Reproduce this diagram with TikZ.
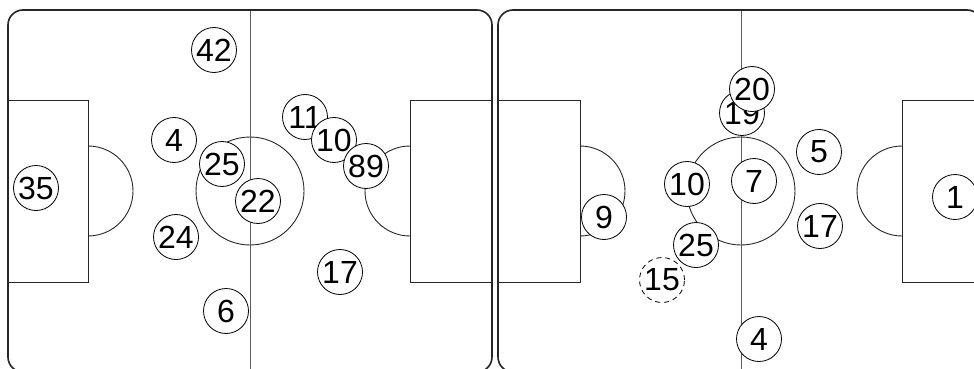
\documentclass[tikz,border=0pt]{standalone}
\usepackage{fontspec}
\setmainfont{Liberation Sans}
\begin{document}
\begin{tikzpicture}[x=1pt,y=-1pt,
  player/.style={circle, draw=black, fill=white, line width=0.8pt, minimum size=45pt, inner sep=0pt, font=\fontsize{32}{32}\selectfont},
  subplayer/.style={player, dashed, dash pattern=on 5pt off 4pt},
  outerline/.style={draw=black!85, line width=1.6pt, rounded corners=15pt},
  pitchline/.style={draw=black!85, line width=0.9pt},
  midline/.style={draw=black!65, line width=1pt}]
\useasboundingbox (0,0) rectangle (974,369);
\clip (0,0) rectangle (974,369);
% left pitch
\draw[pitchline] (8,100) rectangle (88,282);
\draw[pitchline] (410,100) rectangle (492,282);
\draw[pitchline] (88,146) arc[start angle=-90,end angle=90,radius=45];
\draw[pitchline] (410,146) arc[start angle=270,end angle=90,radius=45];
\draw[pitchline] (250,191) circle[radius=54];
\draw[midline] (250,10) -- (250,372);
\draw[outerline] (8,10) rectangle (492,372);
% right pitch
\draw[pitchline] (498,100) rectangle (580,282);
\draw[pitchline] (902,100) rectangle (982,282);
\draw[pitchline] (580,146) arc[start angle=-90,end angle=90,radius=45];
\draw[pitchline] (902,146) arc[start angle=270,end angle=90,radius=45];
\draw[pitchline] (741,191) circle[radius=54];
\draw[midline] (741,10) -- (741,372);
\draw[outerline] (498,10) rectangle (982,372);
% left players
\node[player] (l42) at (214,50) {42};
\node[player] (l4) at (174,140) {4};
\node[player] (l25) at (222,164) {25};
\node[player] (l22) at (258,201) {22};
\node[player] (l24) at (176,237) {24};
\node[player] (l35) at (36,188) {35};
\node[player] (l6) at (226,311) {6};
\node[player] (l11) at (305,117) {11};
\node[player] (l10) at (334,140) {10};
\node[player] (l89) at (366,166) {89};
\node[player] (l17) at (340,272) {17};
% right players
\node[player] (r19) at (742,113) {19};
\node[player] (r20) at (752,89) {20};
\node[player] (r10) at (687,184) {10};
\node[player] (r7) at (754,181) {7};
\node[player] (r5) at (819,152) {5};
\node[player] (r17) at (820,226) {17};
\node[player] (r9) at (604,217) {9};
\node[player] (r25) at (696,245) {25};
\node[subplayer] (r15) at (662,280) {15};
\node[player] (r4) at (759,339) {4};
\node[player] (r1) at (955,197) {1};
\end{tikzpicture}
\end{document}
